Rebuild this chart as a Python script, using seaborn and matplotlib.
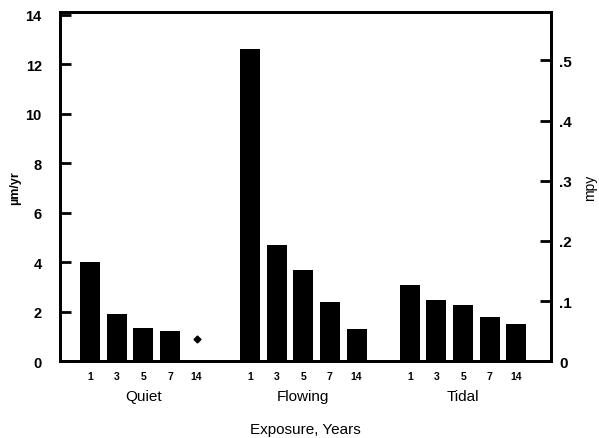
import numpy as np
import pandas as pd
import matplotlib
matplotlib.use("Agg")
import matplotlib.pyplot as plt
import seaborn as sns

# -------------------
# Data
# -------------------
years = ["1", "3", "5", "7", "14"]
groups = ["Quiet", "Flowing", "Tidal"]
quiet = [4.0, 1.92, 1.33, 1.23, np.nan]   # 14-yr shown as a point only
flowing = [12.6, 4.7, 3.67, 2.38, 1.29]
tidal = [3.09, 2.49, 2.26, 1.78, 1.49]
quiet_14_point = 0.9

left_ticks = [0, 2, 4, 6, 8, 10, 12, 14]
right_ticks = [0, 0.1, 0.2, 0.3, 0.4, 0.5]
right_labels = ["0", ".1", ".2", ".3", ".4", ".5"]
UM_PER_MPY = 24.3   # scale of the right axis as drawn

# -------------------
# Build frame
# -------------------
rows = []
for gi, (g, vals) in enumerate(zip(groups, [quiet, flowing, tidal])):
    for i, (yr, v) in enumerate(zip(years, vals)):
        rows.append({"group": g, "year": yr, "slot": gi * 6 + i, "rate": v})
df = pd.DataFrame(rows)

sns.set_style("white")
plt.rcParams["font.family"] = ["Liberation Sans", "DejaVu Sans"]
plt.rcParams.update({"text.color": "black", "axes.labelcolor": "black",
                     "xtick.color": "black", "ytick.color": "black",
                     "axes.edgecolor": "black"})

fig = plt.figure(figsize=(5.99, 4.39), dpi=100)
ax = fig.add_axes([0.1, 0.175, 0.82, 0.795])

sns.barplot(data=df.dropna(), x="slot", y="rate", native_scale=True,
            color="black", width=0.75, ax=ax, errorbar=None,
            edgecolor="black", linewidth=0, saturation=1)
q14 = df[(df.group == "Quiet") & (df.year == "14")]["slot"].iloc[0]
ax.plot([q14], [quiet_14_point], marker="D", color="black", markersize=3.5,
        linestyle="none")

ax.set_xlim(-1.13, 17.3)
ax.set_ylim(0, 14.1)
ax.set_yticks(left_ticks)
ax.set_yticklabels([str(t) for t in left_ticks], fontweight="bold", fontsize=10.5)
ax.tick_params(axis="y", direction="in", length=8, width=2, left=True, pad=13)
ax.set_xticks(df["slot"])
ax.set_xticklabels(df["year"], fontsize=7.5, fontweight="bold")
ax.tick_params(axis="x", length=0, pad=7)
ax.set_xlabel("")
ax.set_ylabel("µm/yr", fontsize=9, fontweight="bold", labelpad=3)
for s in ax.spines.values():
    s.set_visible(True)
    s.set_linewidth(2)
    s.set_color("black")

# group labels + axis title
for gi, g in enumerate(groups):
    ax.text(gi * 6 + 2, -0.1, g, transform=ax.get_xaxis_transform(),
            ha="center", va="center", fontsize=11)
ax.text(0.5, -0.193, "Exposure, Years", transform=ax.transAxes,
        ha="center", va="center", fontsize=11)

# right axis in mpy
ax2 = ax.twinx()
ax2.set_ylim(0, 14.1 / UM_PER_MPY)
ax2.set_yticks(right_ticks)
ax2.set_yticklabels(right_labels, fontweight="bold", fontsize=11)
ax2.tick_params(axis="y", direction="in", length=8, width=2, right=True, pad=6)
ax2.set_ylabel("mpy", fontsize=10, rotation=90, labelpad=8)
for s in ax2.spines.values():
    s.set_linewidth(2)
    s.set_color("black")

fig.savefig("out.png", dpi=100)
plt.close(fig)
